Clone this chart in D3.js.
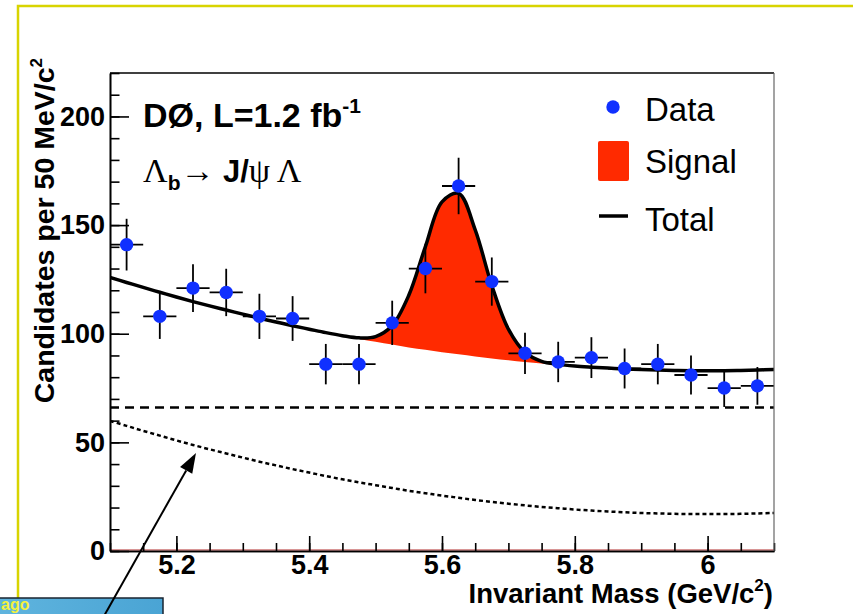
<!DOCTYPE html>
<html><head><meta charset="utf-8">
<script src="https://cdn.jsdelivr.net/npm/d3@7"></script>
<style>body{margin:0;background:#fff;} svg{display:block;}</style>
</head><body><svg id="c" width="853" height="614"></svg>
<script>
// ---------- data ----------
const binCenters = [5.125,5.175,5.225,5.275,5.325,5.375,5.425,5.475,5.525,5.575,5.625,5.675,5.725,5.775,5.825,5.875,5.925,5.975,6.025,6.075];
const counts     = [141,108,121,119,108,107,86,86,105,130,168,124,91,87,89,84,86,81,75,76];
const countErrors= [11.9,10.4,11.0,10.9,10.4,10.3,9.3,9.3,10.2,11.4,13.0,11.1,9.5,9.3,9.4,9.2,9.3,9.0,8.7,8.7];
const binHalfWidth = 0.025;
// fit curve sampled every 0.025 GeV from 5.100 to 6.100
const curveMass = [5.100,5.125,5.150,5.175,5.200,5.225,5.250,5.275,5.300,5.325,5.350,5.375,5.400,5.425,5.450,5.475,5.500,5.525,5.550,5.575,5.600,5.625,5.650,5.675,5.700,5.725,5.750,5.775,5.800,5.825,5.850,5.875,5.900,5.925,5.950,5.975,6.000,6.025,6.050,6.075,6.100];
const flatBackground = 66;
const peakingBackground = [59.9,57.6,55.3,53.1,50.9,48.8,46.8,44.9,43.0,41.1,39.4,37.7,36.1,34.5,33.0,31.6,30.3,29.0,27.7,26.6,25.5,24.5,23.5,22.6,21.8,21.0,20.3,19.7,19.1,18.6,18.2,17.8,17.5,17.3,17.1,17.0,17.0,17.0,17.1,17.3,17.5];
const signalYield = [0,0,0,0,0,0,0,0,0,0,0,0,0,0,0.1,0.5,2.4,8.8,24.0,47.5,69.2,74.1,58.3,33.6,14.3,4.4,1.0,0.2,0,0,0,0,0,0,0,0,0,0,0,0,0];
const xTicks = [5.2,5.4,5.6,5.8,6];
const yTicks = [0,50,100,150,200];
const legendLabels = ["Data","Signal","Total"];

// ---------- setup ----------
const svg = d3.select('#c');
const FONT = "'Liberation Sans', Arial, Helvetica, sans-serif";
const SERIF = "'Liberation Serif','DejaVu Serif', serif";
const x = d3.scaleLinear().domain([5.1, 6.1]).range([110, 774]);
const y = d3.scaleLinear().domain([0, 220]).range([551, 73]);

const defs = svg.append('defs');
defs.append('clipPath').attr('id','plotclip').append('rect')
  .attr('x',110).attr('y',73).attr('width',664).attr('height',478);
const grad = defs.append('linearGradient').attr('id','boxgrad').attr('x1',0).attr('y1',0).attr('x2',1).attr('y2',0);
grad.append('stop').attr('offset','0%').attr('stop-color','#5fb4de');
grad.append('stop').attr('offset','100%').attr('stop-color','#4aa4d4');

// yellow slide frame
svg.append('path').attr('d','M18,598 L18,6 L853,6').attr('fill','none')
  .attr('stroke','#d8d400').attr('stroke-width',2.5);

// ---------- curves ----------
const pts = curveMass.map((m,i)=>({m, bg: flatBackground + peakingBackground[i], tot: flatBackground + peakingBackground[i] + signalYield[i], pk: peakingBackground[i]}));
const plot = svg.append('g').attr('clip-path','url(#plotclip)');
const curve = d3.curveCatmullRom.alpha(0.5);

plot.append('path').datum(pts.slice(13,29))
  .attr('d', d3.area().x(d=>x(d.m)).y0(d=>y(d.bg)).y1(d=>y(d.tot)).curve(curve))
  .attr('fill','#ff2a00');

plot.append('path').datum([5.1,6.1])
  .attr('d', d3.line().x(d=>x(d)).y(()=>y(flatBackground)))
  .attr('fill','none').attr('stroke','#000').attr('stroke-width',2.5).attr('stroke-dasharray','9,6');

plot.append('path').datum(pts)
  .attr('d', d3.line().x(d=>x(d.m)).y(d=>y(d.pk)).curve(curve))
  .attr('fill','none').attr('stroke','#000').attr('stroke-width',2.5).attr('stroke-dasharray','4,3');

plot.append('path').datum(pts)
  .attr('d', d3.line().x(d=>x(d.m)).y(d=>y(d.tot)).curve(curve))
  .attr('fill','none').attr('stroke','#000').attr('stroke-width',3.5).attr('stroke-linejoin','round');

// ---------- data points ----------
const dataPts = binCenters.map((m,i)=>({m, c: counts[i], e: countErrors[i]}));
const pg = svg.append('g');
pg.selectAll('line.v').data(dataPts).join('line').attr('class','v')
  .attr('x1',d=>x(d.m)).attr('x2',d=>x(d.m)).attr('y1',d=>y(d.c-d.e)).attr('y2',d=>y(d.c+d.e))
  .attr('stroke','#000').attr('stroke-width',1.8);
pg.selectAll('line.h').data(dataPts).join('line').attr('class','h')
  .attr('x1',d=>x(d.m-binHalfWidth)).attr('x2',d=>x(d.m+binHalfWidth)).attr('y1',d=>y(d.c)).attr('y2',d=>y(d.c))
  .attr('stroke','#000').attr('stroke-width',1.8);
pg.selectAll('circle').data(dataPts).join('circle')
  .attr('cx',d=>x(d.m)).attr('cy',d=>y(d.c)).attr('r',6.7).attr('fill','#1030ff');

// ---------- axes ----------
svg.append('line').attr('x1',110).attr('x2',774).attr('y1',550).attr('y2',550).attr('stroke','#b02a2a').attr('stroke-width',1);

const gxMinor = svg.append('g').attr('transform','translate(0,551)')
  .call(d3.axisBottom(x).tickValues(d3.range(0,21).map(i=>5.1+i*0.05)).tickSize(-8).tickSizeOuter(0).tickFormat(''));
const gx = svg.append('g').attr('transform','translate(0,551)')
  .call(d3.axisBottom(x).tickValues(xTicks).tickSize(-15).tickSizeOuter(0).tickPadding(4).tickFormat(d3.format('')));
const gyMinor = svg.append('g').attr('transform','translate(110,0)')
  .call(d3.axisLeft(y).tickValues(d3.range(0,221,10)).tickSize(-9.5).tickSizeOuter(0).tickFormat(''));
const gy = svg.append('g').attr('transform','translate(110,0)')
  .call(d3.axisLeft(y).tickValues(yTicks).tickSize(-19).tickSizeOuter(0).tickPadding(5));
[gxMinor,gx,gyMinor,gy].forEach(g=>{
  g.selectAll('path.domain').attr('stroke','#000').attr('stroke-width',1.6);
  g.selectAll('.tick line').attr('stroke','#000').attr('stroke-width',1.6);
  g.selectAll('.tick text').attr('font-family',FONT).attr('font-weight','bold').attr('font-size',27).attr('fill','#000');
});
// frame top and right
svg.append('line').attr('x1',110).attr('x2',774).attr('y1',73).attr('y2',73).attr('stroke','#000').attr('stroke-width',1.5);
svg.append('line').attr('x1',774).attr('x2',774).attr('y1',73).attr('y2',551).attr('stroke','#666').attr('stroke-width',1.2);

// axis titles
const xt = svg.append('text').attr('x',773).attr('y',603).attr('text-anchor','end')
  .attr('font-family',FONT).attr('font-weight','bold').attr('font-size',27.5);
xt.append('tspan').text('Invariant Mass (GeV/c');
xt.append('tspan').attr('font-size',17).attr('dy',-12).text('2');
xt.append('tspan').attr('dy',12).text(')');

const yt = svg.append('text').attr('transform','translate(54,58) rotate(-90)').attr('text-anchor','end')
  .attr('font-family',FONT).attr('font-weight','bold').attr('font-size',28.5);
yt.append('tspan').text('Candidates per 50 MeV/c');
yt.append('tspan').attr('font-size',17).attr('dy',-12).text('2');

// annotations
const a1 = svg.append('text').attr('x',143).attr('y',127).attr('font-family',FONT).attr('font-weight','bold').attr('font-size',34);
a1.append('tspan').text('DØ, L=1.2 fb');
a1.append('tspan').attr('font-size',21).attr('dy',-14).text('-1');
const a2 = svg.append('text').attr('x',143).attr('y',182).attr('font-size',34).attr('font-family',FONT);
a2.append('tspan').attr('font-family',SERIF).text('Λ');
a2.append('tspan').attr('font-weight','bold').attr('font-size',21).attr('dy',8).text('b');
a2.append('tspan').attr('font-family',SERIF).attr('dy',-8).text('→ ');
a2.append('tspan').attr('font-weight','bold').attr('font-size',31).text('J/');
a2.append('tspan').attr('font-family',SERIF).text('ψ Λ');

// legend
const lg = svg.append('g');
lg.append('circle').attr('cx',613).attr('cy',107).attr('r',6.7).attr('fill','#1030ff');
lg.append('rect').attr('x',598).attr('y',141).attr('width',31).attr('height',40).attr('rx',2).attr('fill','#ff2a00');
lg.append('line').attr('x1',599).attr('x2',628).attr('y1',216).attr('y2',216).attr('stroke','#000').attr('stroke-width',3.5);
lg.selectAll('text').data(legendLabels).join('text')
  .attr('x',645).attr('y',(d,i)=>[121,173,231][i]).text(d=>d)
  .attr('font-family',FONT).attr('font-size',33).attr('fill','#000');

// bottom-left slide box
svg.append('rect').attr('x',-2).attr('y',598).attr('width',165).attr('height',24)
  .attr('fill','url(#boxgrad)').attr('stroke','#1a2430').attr('stroke-width',1.5);
svg.append('text').attr('x',1).attr('y',610).attr('font-family',FONT).attr('font-weight','bold')
  .attr('font-size',16).attr('fill','#f4f23c').text('ago');

// arrow
const tail = [104,616], tip = [196,453];
const dx = tip[0]-tail[0], dy = tip[1]-tail[1], L = Math.hypot(dx,dy), ux = dx/L, uy = dy/L;
const bx = tip[0]-20*ux, by = tip[1]-20*uy;
svg.append('line').attr('x1',tail[0]).attr('y1',tail[1]).attr('x2',bx).attr('y2',by).attr('stroke','#000').attr('stroke-width',2);
svg.append('path').attr('d',`M${tip[0]},${tip[1]} L${bx+7*(-uy)},${by+7*ux} L${bx-7*(-uy)},${by-7*ux} Z`).attr('fill','#000');
</script></body></html>
